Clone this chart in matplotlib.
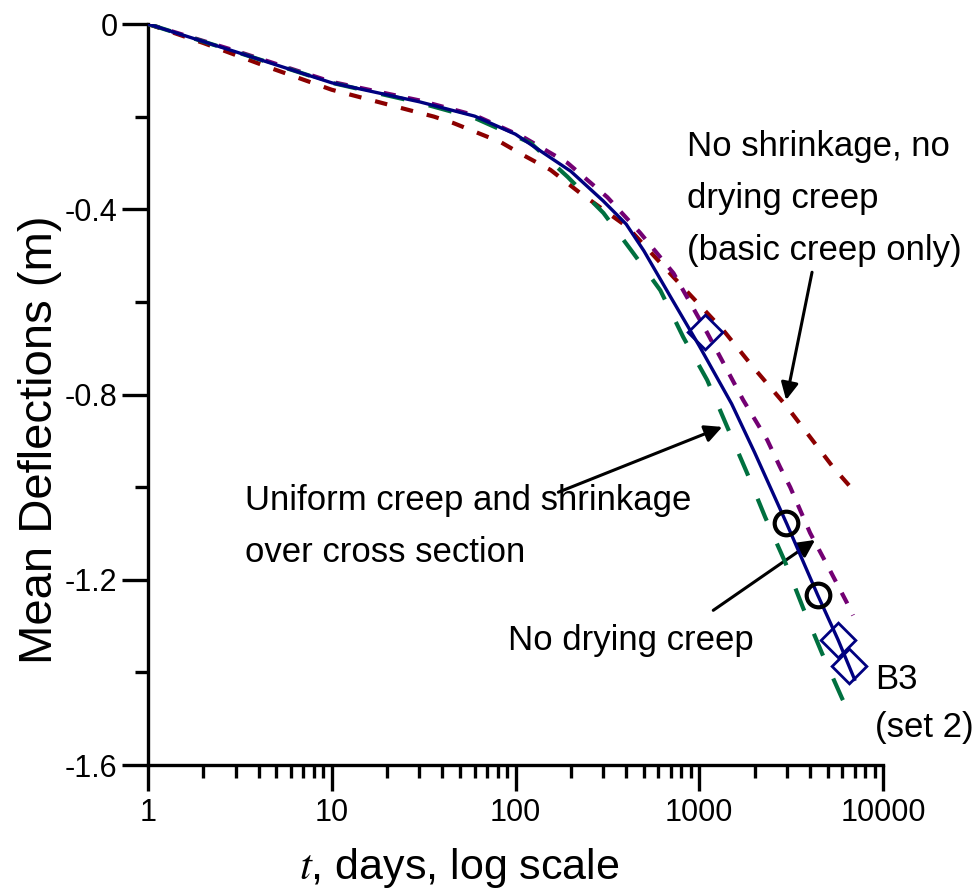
import matplotlib
matplotlib.use("Agg")
import matplotlib.pyplot as plt
from matplotlib.ticker import NullFormatter, LogLocator

plt.rcParams['font.family'] = ['Liberation Sans', 'DejaVu Sans']
plt.rcParams['mathtext.fontset'] = 'stix'

# B3 (set 2) prediction
t_b3 = [1, 3, 10, 30, 60, 100, 200, 300, 400, 500, 700, 1000, 1500, 2000, 3000, 4400, 5700, 7000]
d_b3 = [0, -0.060, -0.127, -0.168, -0.199, -0.238, -0.318, -0.382, -0.432, -0.490, -0.590,
        -0.695, -0.820, -0.925, -1.080, -1.232, -1.330, -1.415]

# uniform creep and shrinkage over cross section
t_unif = [1, 3, 10, 30, 60, 121, 192, 301, 438, 614, 818, 1105, 1420, 1823, 2285,
          2934, 3675, 4660, 5985, 6450]
d_unif = [0, -0.060, -0.127, -0.170, -0.203, -0.257, -0.330, -0.408, -0.495, -0.575,
          -0.676, -0.769, -0.870, -0.970, -1.065, -1.162, -1.261, -1.359, -1.456, -1.482]

# no drying creep
t_nodry = [1, 3, 10, 30, 60, 110, 192, 316, 477, 724, 1105, 1300, 1734, 2343, 2755,
           3125, 4012, 5150, 6370, 6870]
d_nodry = [0, -0.058, -0.125, -0.165, -0.197, -0.244, -0.300, -0.374, -0.451, -0.538,
           -0.667, -0.719, -0.812, -0.898, -0.957, -1.000, -1.099, -1.180, -1.250, -1.277]

# no shrinkage, no drying creep (basic creep only)
t_basic = [1, 2, 4.5, 10, 36, 46, 83, 110, 155, 225, 406, 722, 1350, 1965, 3008, 5350, 6870]
d_basic = [0, -0.041, -0.093, -0.142, -0.200, -0.214, -0.255, -0.283, -0.315, -0.365,
           -0.438, -0.546, -0.661, -0.741, -0.827, -0.957, -1.006]

# measured points
t_circ = [2970, 4436]
d_circ = [-1.078, -1.233]
t_sq = [1078, 5690, 6535]
d_sq = [-0.665, -1.330, -1.387]

yticks = [0, -0.4, -0.8, -1.2, -1.6]
ytick_labels = ['0', '-0.4', '-0.8', '-1.2', '-1.6']
xticks = [1, 10, 100, 1000, 10000]
xtick_labels = ['1', '10', '100', '1000', '10000']

navy = '#000080'
green = '#00703F'
purple = '#730073'
red = '#8C0000'

fig = plt.figure(figsize=(9.75, 8.94), dpi=100)
ax = fig.add_axes([148 / 975, 1 - 765 / 894, 735 / 975, 741 / 894])

ax.plot(t_basic, d_basic, color=red, lw=3, dashes=(3, 3.4), zorder=2)
ax.plot(t_nodry, d_nodry, color=purple, lw=3, dashes=(2.9, 3.0), zorder=3)
ax.plot(t_unif, d_unif, color=green, lw=3, dashes=(5.7, 6), zorder=4)
ax.plot(t_b3, d_b3, color=navy, lw=2.4, zorder=5)
ax.plot(t_circ, d_circ, ls='none', marker='o', ms=17, mfc='none', mec='black', mew=3, zorder=6)
ax.plot(t_sq, d_sq, ls='none', marker=(4, 0, 0), ms=25, mfc='none', mec=navy, mew=2, zorder=6)

ax.set_xscale('log')
ax.set_xlim(1, 10000)
ax.set_ylim(-1.6, 0)
ax.set_xticks(xticks, labels=xtick_labels)
ax.xaxis.set_minor_locator(LogLocator(base=10, subs=range(2, 10)))
ax.xaxis.set_minor_formatter(NullFormatter())
ax.set_yticks(yticks, labels=ytick_labels)
ax.set_yticks([-0.2, -0.6, -1.0, -1.4], minor=True)

for s in ['top', 'right']:
    ax.spines[s].set_visible(False)
for s in ['left', 'bottom']:
    ax.spines[s].set_linewidth(2.4)
ax.tick_params(which='major', direction='out', length=19, width=2.4, labelsize=22, pad=3)
ax.tick_params(which='minor', direction='out', length=9.5, width=2.4)
ax.tick_params(axis='x', which='major', pad=5)

ax.set_xlabel(r'$t$, days, log scale', fontsize=31)
ax.set_ylabel('Mean Deflections (m)', fontsize=34)
ax.xaxis.set_label_coords(0.423, -0.139)
ax.xaxis.label.set_va('center')
ax.yaxis.set_label_coords(-0.147, 0.439)
ax.yaxis.label.set_va('center')

# multi-line labels are placed by the baseline of their last line
tf = ax.transAxes
ax.text(0.733, 0.681, 'No shrinkage, no\ndrying creep\n(basic creep only)', transform=tf,
        fontsize=25, va='baseline', ha='left', linespacing=1.73)
ax.text(0.132, 0.274, 'Uniform creep and shrinkage\nover cross section', transform=tf,
        fontsize=25, va='baseline', ha='left', linespacing=1.73)
ax.text(0.490, 0.155, 'No drying creep', transform=tf,
        fontsize=25, va='baseline', ha='left')
ax.text(0.989, 0.038, 'B3\n(set 2)', transform=tf,
        fontsize=25, va='baseline', ha='left', linespacing=1.57)

arrow = dict(arrowstyle='-|>', color='black', lw=2.2, mutation_scale=26,
             shrinkA=0, shrinkB=0)
ax.annotate('', xy=(2970, -0.812), xytext=(4110, -0.536), arrowprops=arrow)
ax.annotate('', xy=(1334, -0.870), xytext=(171, -1.011), arrowprops=arrow)
ax.annotate('', xy=(4270, -1.114), xytext=(1192, -1.266), arrowprops=arrow)

fig.savefig('out.png', dpi=100)
